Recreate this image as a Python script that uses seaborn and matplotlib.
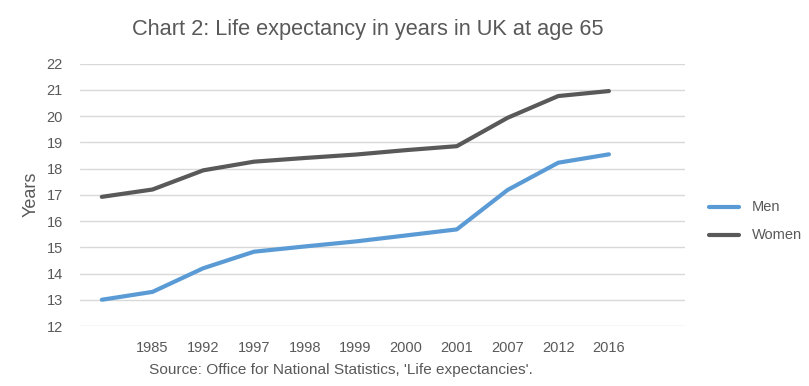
import numpy as np
import pandas as pd
import seaborn as sns
import matplotlib.pyplot as plt

# data (first category has no label in the original)
years = ['', '1985', '1992', '1997', '1998', '1999', '2000', '2001', '2007', '2012', '2016']
men = [13.0, 13.3, 14.2, 14.83, 15.03, 15.22, 15.45, 15.68, 17.18, 18.22, 18.54]
women = [16.92, 17.2, 17.93, 18.26, 18.4, 18.53, 18.7, 18.85, 19.93, 20.76, 20.95]

df = pd.DataFrame({
    'pos': list(range(len(years))) * 2,
    'Years': men + women,
    'series': ['Men'] * len(men) + ['Women'] * len(women),
})

sns.set_theme(style='white')
plt.rcParams['font.family'] = ['Liberation Sans', 'DejaVu Sans']

text_col = '#595959'
fig = plt.figure(figsize=(8.09, 3.86), dpi=100)
ax = fig.add_axes([80 / 809, 60 / 386, 605 / 809, 262.5 / 386])

sns.lineplot(data=df, x='pos', y='Years', hue='series',
             palette={'Men': '#5B9BD5', 'Women': '#595959'},
             linewidth=3.0, ax=ax, legend=False)

ax.set_ylim(12, 22)
ax.set_yticks(np.arange(12, 23, 1))
ax.set_xlim(-0.43, 11.5)
ax.set_xticks(range(len(years)))
ax.set_xticklabels(years)
ax.grid(axis='y', color='#d9d9d9', linewidth=1)
ax.set_axisbelow(True)
for s in ax.spines.values():
    s.set_visible(False)
ax.tick_params(axis='both', length=0, labelsize=10.5, colors=text_col)
ax.tick_params(axis='y', pad=12.5)
ax.tick_params(axis='x', pad=11)
ax.set_xlabel('')
ax.set_ylabel('Years', fontsize=13, color=text_col, labelpad=5)

fig.text(368 / 809, 1 - 30 / 386, 'Chart 2: Life expectancy in years in UK at age 65',
         ha='center', va='center', fontsize=15.7, color=text_col)
fig.text(341 / 809, 1 - 370 / 386, "Source: Office for National Statistics, 'Life expectancies'.",
         ha='center', va='center', fontsize=11.1, color=text_col)

# legend drawn by hand at the right side
for label, col, yy in [('Men', '#5B9BD5', 207), ('Women', '#595959', 235)]:
    fig.add_artist(plt.Line2D([709 / 809, 739 / 809], [1 - yy / 386] * 2,
                              color=col, linewidth=3.0, transform=fig.transFigure))
    fig.text(752 / 809, 1 - yy / 386, label, ha='left', va='center',
             fontsize=10.5, color=text_col)

fig.savefig('out.png', dpi=100)
